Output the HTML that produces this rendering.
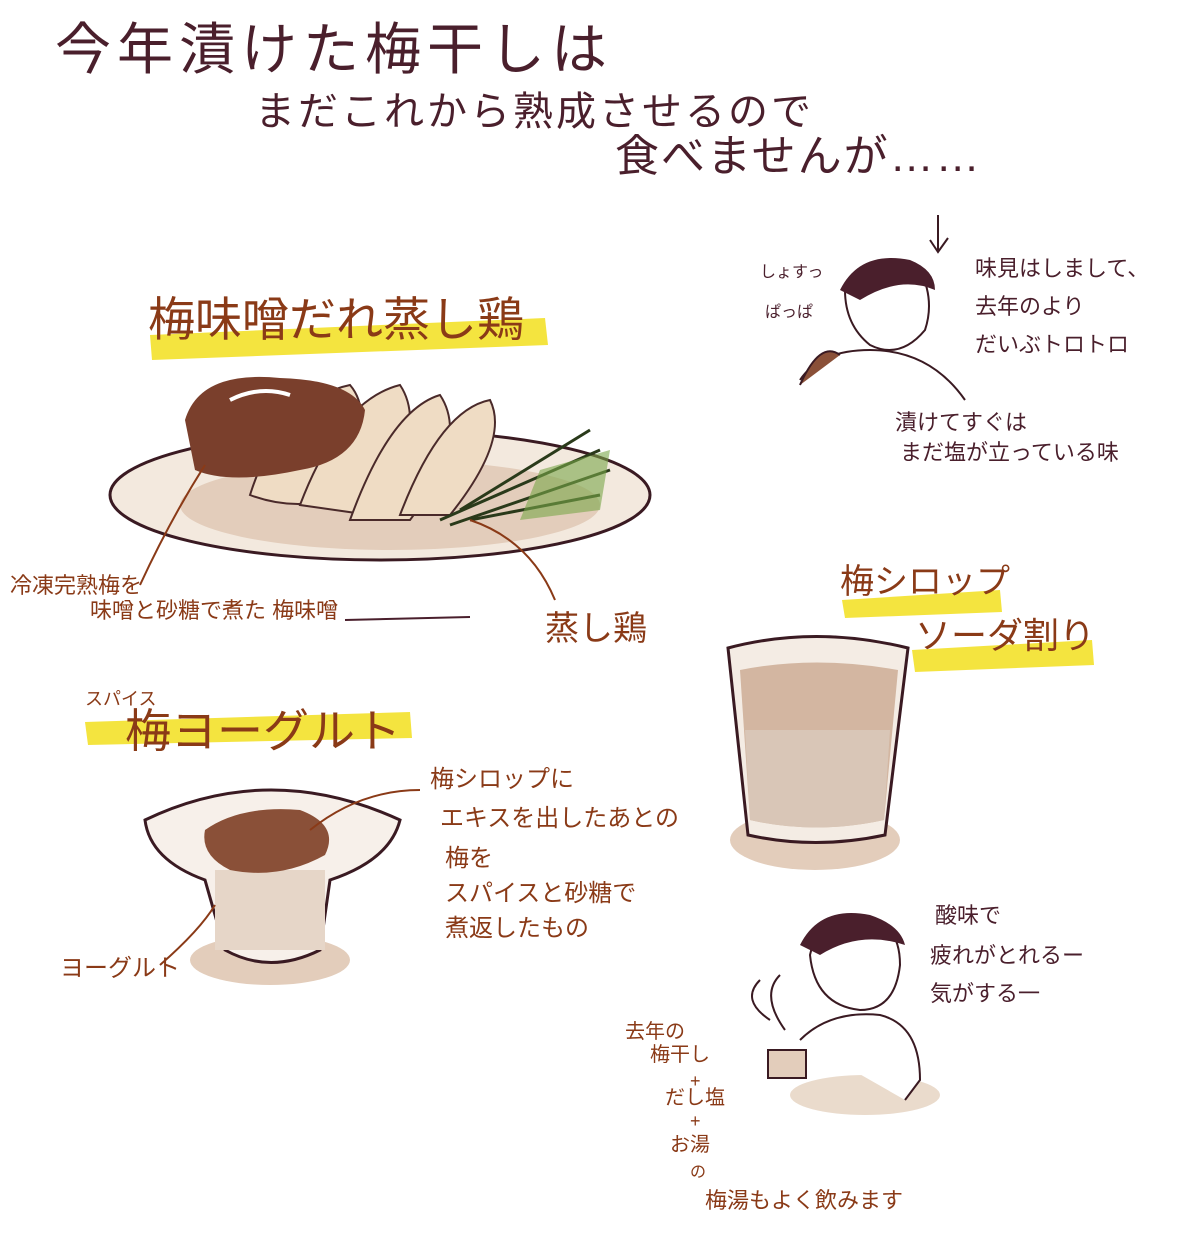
<!DOCTYPE html>
<html><head><meta charset="utf-8">
<style>
html,body{margin:0;padding:0;background:#fff;}
#c{position:relative;width:1200px;height:1235px;overflow:hidden;background:#fff;font-family:"Liberation Sans","Noto Sans CJK JP",sans-serif;}
.t{position:absolute;white-space:nowrap;line-height:1;}
.ti{color:#4a1f2c;font-size:56px;letter-spacing:6px;}
.d{color:#4a1f2c;font-size:22px;}
.b{color:#8a3a17;font-size:24px;}
.h{color:#8a3a17;font-size:40px;}
svg{position:absolute;left:0;top:0;}
</style></head><body><div id="c">
<svg width="1200" height="1235">
 <path d="M150 335 L545 318 L548 345 L152 360 Z" fill="#f3e12a" opacity=".9"/>
 <path d="M85 722 L410 712 L412 738 L88 745 Z" fill="#f3e12a" opacity=".9"/>
 <path d="M842 600 L1000 590 L1002 612 L845 618 Z" fill="#f3e12a" opacity=".9"/>
 <path d="M912 650 L1092 640 L1094 665 L915 672 Z" fill="#f3e12a" opacity=".9"/>
 <ellipse cx="380" cy="495" rx="270" ry="65" fill="#f3e9de" stroke="#3a1a22" stroke-width="3"/>
 <ellipse cx="390" cy="505" rx="210" ry="45" fill="#e3cdbb"/>
 <g fill="#efdcc4" stroke="#4a2a2a" stroke-width="2">
  <path d="M250 495 Q280 400 350 385 Q380 420 330 500 Q290 510 250 495Z"/>
  <path d="M300 505 Q340 400 400 385 Q430 430 370 515 Z"/>
  <path d="M350 520 Q390 410 440 395 Q470 440 410 520 Z"/>
  <path d="M400 515 Q440 410 490 400 Q510 440 450 515 Z"/>
 </g>
 <g stroke="#2a3a1a" stroke-width="3">
  <line x1="440" y1="520" x2="600" y2="450"/><line x1="450" y1="525" x2="610" y2="470"/>
  <line x1="460" y1="510" x2="590" y2="430"/><line x1="470" y1="520" x2="600" y2="495"/>
 </g>
 <path d="M540 470 L610 450 L600 510 L520 520Z" fill="#7aa64a" opacity=".6"/>
 <path d="M185 420 Q200 370 280 378 Q350 380 365 410 Q360 460 300 470 Q230 485 195 470 Z" fill="#7a3f2c"/>
 <path d="M230 400 Q260 385 290 395" stroke="#fff" stroke-width="4" fill="none"/>
 <path d="M205 465 Q170 520 140 585" stroke="#8a3a17" stroke-width="2" fill="none"/>
 <path d="M470 520 Q530 540 555 600" stroke="#8a3a17" stroke-width="2" fill="none"/>
 <line x1="345" y1="620" x2="470" y2="617" stroke="#4a1f2c" stroke-width="2"/>
 <ellipse cx="270" cy="960" rx="80" ry="25" fill="#e3cdbb"/>
 <path d="M145 820 Q270 760 400 820 Q390 860 330 880 L320 950 Q270 975 225 950 L205 880 Q150 860 145 820Z" fill="#f7f0ea" stroke="#3a1a22" stroke-width="3"/>
 <rect x="215" y="870" width="110" height="80" fill="#e6d6c8"/>
 <path d="M205 830 Q240 805 300 810 Q340 825 325 855 Q280 880 230 870 Q200 855 205 830Z" fill="#8a5038"/>
 <path d="M310 830 Q360 790 420 790" stroke="#8a3a17" stroke-width="2" fill="none"/>
 <path d="M160 965 Q200 930 215 905" stroke="#8a3a17" stroke-width="2" fill="none"/>
 <ellipse cx="815" cy="840" rx="85" ry="30" fill="#e3cdbb"/>
 <path d="M728 648 Q815 625 908 648 L885 835 Q815 850 748 835 Z" fill="#f4ece4" stroke="#3a1a22" stroke-width="3"/>
 <path d="M740 670 Q815 655 898 670 L884 820 Q815 835 750 820 Z" fill="#c4a085" opacity=".7"/>
 <path d="M745 730 L890 730 L884 820 Q815 835 750 820Z" fill="#d9c6b7"/>
 <path d="M845 290 Q870 250 920 270 Q935 300 925 330 Q900 360 870 345 Q845 325 845 290Z" fill="#fff" stroke="#3a1a22" stroke-width="2"/>
 <path d="M840 290 Q860 250 910 260 Q935 270 935 290 Q900 275 860 300Z" fill="#4a1f2c"/>
 <path d="M800 380 Q820 350 870 350 Q930 350 965 400" stroke="#3a1a22" stroke-width="2" fill="none"/>
 <path d="M800 385 Q820 340 840 355" fill="#8a5038" stroke="#3a1a22" stroke-width="2"/>
 <ellipse cx="865" cy="1095" rx="75" ry="20" fill="#eadbcc"/>
 <path d="M810 955 Q820 910 860 915 Q900 920 900 965 Q895 1010 860 1010 Q815 1005 810 955Z" fill="#fff" stroke="#3a1a22" stroke-width="2"/>
 <path d="M800 945 Q820 905 870 915 Q900 925 905 945 Q860 930 820 955Z" fill="#4a1f2c"/>
 <path d="M800 1040 Q830 1010 880 1015 Q920 1025 920 1080 L905 1100" stroke="#3a1a22" stroke-width="2" fill="#fff"/>
 <rect x="768" y="1050" width="38" height="28" fill="#e3cdbb" stroke="#3a1a22" stroke-width="2"/>
 <path d="M760 980 Q740 1000 770 1020 M780 975 Q760 995 785 1030" stroke="#3a1a22" stroke-width="2" fill="none"/>
 <path d="M938 215 L938 250 M930 240 L938 252 L948 238" stroke="#3a1a22" stroke-width="2" fill="none"/>
</svg>
<div class="t ti" style="left:55px;top:22px;">今年漬けた梅干しは</div>
<div class="t ti" style="left:255px;top:92px;font-size:40px;letter-spacing:3px;">まだこれから熟成させるので</div>
<div class="t ti" style="left:615px;top:135px;font-size:44px;letter-spacing:2px;">食べませんが……</div>
<div class="t d" style="left:975px;top:258px;">味見はしまして、</div>
<div class="t d" style="left:975px;top:296px;">去年のより</div>
<div class="t d" style="left:975px;top:334px;">だいぶトロトロ</div>
<div class="t d" style="left:760px;top:265px;font-size:16px;">しょすっ</div>
<div class="t d" style="left:765px;top:305px;font-size:16px;">ぱっぱ</div>
<div class="t d" style="left:895px;top:412px;">漬けてすぐは</div>
<div class="t d" style="left:900px;top:442px;">まだ塩が立っている味</div>
<div class="t h" style="left:148px;top:296px;font-size:47px;">梅味噌だれ蒸し鶏</div>
<div class="t b" style="left:10px;top:575px;font-size:22px;">冷凍完熟梅を</div>
<div class="t b" style="left:90px;top:600px;font-size:22px;">味噌と砂糖で煮た 梅味噌</div>
<div class="t b" style="left:545px;top:612px;font-size:34px;">蒸し鶏</div>
<div class="t b" style="left:85px;top:690px;font-size:18px;">スパイス</div>
<div class="t h" style="left:125px;top:708px;font-size:46px;">梅ヨーグルト</div>
<div class="t b" style="left:430px;top:768px;">梅シロップに</div>
<div class="t b" style="left:440px;top:807px;">エキスを出したあとの</div>
<div class="t b" style="left:445px;top:847px;">梅を</div>
<div class="t b" style="left:445px;top:882px;">スパイスと砂糖で</div>
<div class="t b" style="left:445px;top:917px;">煮返したもの</div>
<div class="t b" style="left:60px;top:957px;">ヨーグルト</div>
<div class="t h" style="left:840px;top:565px;font-size:34px;">梅シロップ</div>
<div class="t h" style="left:915px;top:618px;font-size:36px;">ソーダ割り</div>
<div class="t d" style="left:935px;top:905px;">酸味で</div>
<div class="t d" style="left:930px;top:945px;">疲れがとれるー</div>
<div class="t d" style="left:930px;top:983px;">気がする一</div>
<div class="t b" style="left:625px;top:1022px;font-size:20px;">去年の</div>
<div class="t b" style="left:650px;top:1045px;font-size:20px;">梅干し</div>
<div class="t b" style="left:690px;top:1072px;font-size:18px;">+</div>
<div class="t b" style="left:665px;top:1088px;font-size:20px;">だし塩</div>
<div class="t b" style="left:690px;top:1112px;font-size:18px;">+</div>
<div class="t b" style="left:670px;top:1135px;font-size:20px;">お湯</div>
<div class="t b" style="left:690px;top:1165px;font-size:16px;">の</div>
<div class="t b" style="left:705px;top:1190px;font-size:22px;">梅湯もよく飲みます</div>
</div></body></html>
